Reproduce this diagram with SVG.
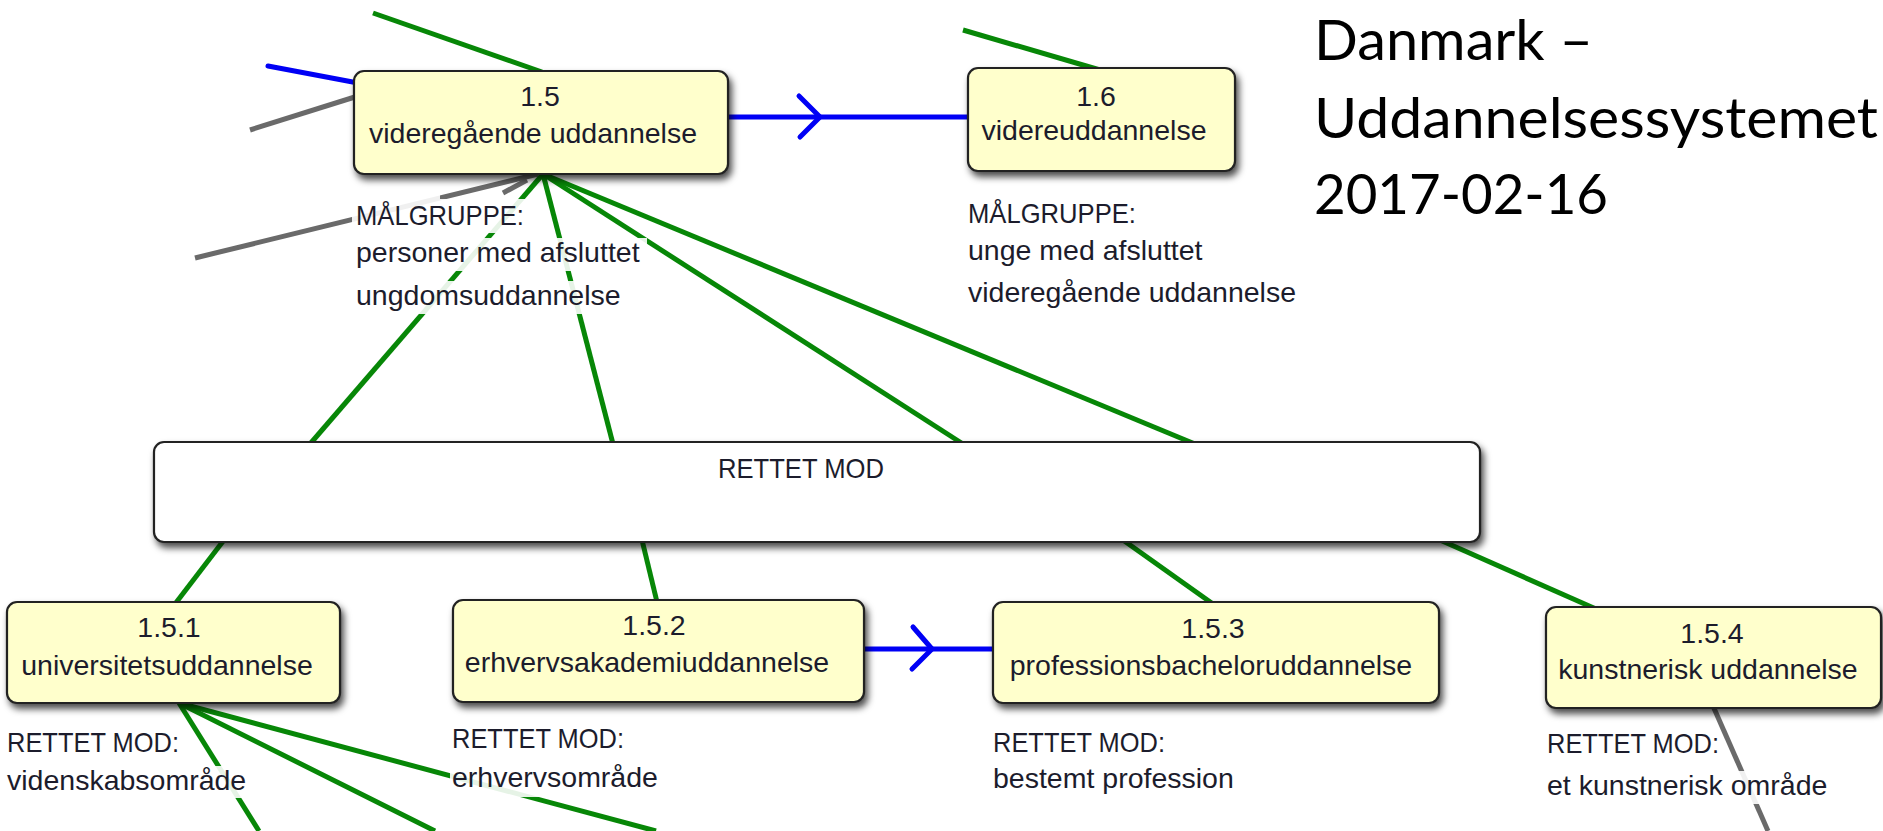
<svg xmlns="http://www.w3.org/2000/svg" width="1883" height="831" viewBox="0 0 1883 831">
<style>
.g{stroke:#078707;stroke-width:5;fill:none;stroke-linecap:butt}
.b{stroke:#0000f5;stroke-width:5;fill:none;stroke-linecap:round;stroke-linejoin:round}
.k{stroke:#6a6a6a;stroke-width:5;fill:none}
.box{fill:#ffffcc;stroke:#222;stroke-width:2.2;filter:url(#sh)}
.wbox{fill:#ffffff;stroke:#222;stroke-width:2.2;filter:url(#sh)}
.t{font-family:"Liberation Sans",Arial,sans-serif;font-size:28.5px;fill:#1c1c2c}
.c{text-anchor:middle}
.bg{fill:#ffffff;fill-opacity:0.9}
.title{font-family:Lato,"Open Sans",sans-serif;font-size:56px;fill:#000}
</style>
<defs>
<filter id="sh" x="-10%" y="-20%" width="125%" height="150%">
<feDropShadow dx="3" dy="5" stdDeviation="3.5" flood-color="#000" flood-opacity="0.7"/>
</filter>
</defs>
<g id="connectors">
<line class="g" x1="373" y1="13" x2="542" y2="72"/>
<line class="b" x1="268" y1="66" x2="358" y2="83"/>
<line class="k" x1="250" y1="130" x2="358" y2="96"/>
<line class="k" x1="195" y1="258" x2="538" y2="174"/>
<line class="k" x1="503" y1="193" x2="527" y2="180"/>
<line class="g" x1="963" y1="30" x2="1100" y2="70"/>
<line class="b" x1="729" y1="117" x2="970" y2="117"/>
<polyline class="b" points="799,96 820,117 800,137"/>
<line class="g" x1="543" y1="174" x2="310" y2="444"/>
<line class="g" x1="543" y1="174" x2="613" y2="444"/>
<line class="g" x1="543" y1="174" x2="963" y2="444"/>
<line class="g" x1="543" y1="174" x2="1195" y2="444"/>
<line class="g" x1="224" y1="540" x2="175" y2="604"/>
<line class="g" x1="642" y1="540" x2="657" y2="602"/>
<line class="g" x1="1123" y1="540" x2="1213" y2="604"/>
<line class="g" x1="1440" y1="540" x2="1596" y2="609"/>
<line class="b" x1="864" y1="649" x2="995" y2="649"/>
<polyline class="b" points="913,627 932,649 912,669"/>
<line class="g" x1="179" y1="703" x2="259" y2="831"/>
<line class="g" x1="179" y1="703" x2="435" y2="831"/>
<line class="g" x1="179" y1="703" x2="656" y2="831"/>
<line class="k" x1="1713" y1="706" x2="1768" y2="831"/>
</g>
<g id="title">
<text class="title" x="1314" y="60" textLength="279" lengthAdjust="spacingAndGlyphs">Danmark –</text>
<text class="title" x="1314" y="138" textLength="564" lengthAdjust="spacingAndGlyphs">Uddannelsessystemet</text>
<text class="title" x="1314" y="214" textLength="294" lengthAdjust="spacingAndGlyphs">2017-02-16</text>
</g>
<g id="n1_5">
<rect class="box" x="354" y="71" width="374" height="103" rx="10"/>
<text class="t c" x="540" y="106">1.5</text>
<text class="t c" x="533" y="143">videregående uddannelse</text>
<rect class="bg" x="352" y="195" width="88" height="38"/>
<rect class="bg" x="440" y="199" width="88" height="34"/>
<rect class="bg" x="354" y="238" width="293" height="33"/>
<rect class="bg" x="354" y="281" width="268" height="33"/>
<text class="t" x="356" y="225" textLength="168" lengthAdjust="spacingAndGlyphs">MÅLGRUPPE:</text>
<text class="t" x="356" y="262">personer med afsluttet</text>
<text class="t" x="356" y="305">ungdomsuddannelse</text>
</g>
<g id="n1_6">
<rect class="box" x="968" y="68" width="267" height="103" rx="10"/>
<text class="t c" x="1096" y="106">1.6</text>
<text class="t c" x="1094" y="140">videreuddannelse</text>
<text class="t" x="968" y="223" textLength="168" lengthAdjust="spacingAndGlyphs">MÅLGRUPPE:</text>
<text class="t" x="968" y="260">unge med afsluttet</text>
<text class="t" x="968" y="302">videregående uddannelse</text>
</g>
<g id="rettet_mod">
<rect class="wbox" x="154" y="442" width="1326" height="100" rx="10"/>
<text class="t" x="718" y="478" textLength="166" lengthAdjust="spacingAndGlyphs">RETTET MOD</text>
</g>
<g id="n1_5_1">
<rect class="box" x="7" y="602" width="333" height="101" rx="10"/>
<text class="t c" x="169" y="637">1.5.1</text>
<text class="t c" x="167" y="675">universitetsuddannelse</text>
<rect class="bg" x="5" y="766" width="245" height="32"/>
<text class="t" x="7" y="752" textLength="172" lengthAdjust="spacingAndGlyphs">RETTET MOD:</text>
<text class="t" x="7" y="790">videnskabsområde</text>
</g>
<g id="n1_5_2">
<rect class="box" x="453" y="600" width="411" height="102" rx="10"/>
<text class="t c" x="654" y="635">1.5.2</text>
<text class="t c" x="647" y="672">erhvervsakademiuddannelse</text>
<rect class="bg" x="450" y="763" width="213" height="34"/>
<text class="t" x="452" y="748" textLength="172" lengthAdjust="spacingAndGlyphs">RETTET MOD:</text>
<text class="t" x="452" y="787">erhvervsområde</text>
</g>
<g id="n1_5_3">
<rect class="box" x="993" y="602" width="446" height="101" rx="10"/>
<text class="t c" x="1213" y="638">1.5.3</text>
<text class="t c" x="1211" y="675">professionsbacheloruddannelse</text>
<text class="t" x="993" y="752" textLength="172" lengthAdjust="spacingAndGlyphs">RETTET MOD:</text>
<text class="t" x="993" y="788">bestemt profession</text>
</g>
<g id="n1_5_4">
<rect class="box" x="1546" y="607" width="335" height="101" rx="10"/>
<text class="t c" x="1712" y="643">1.5.4</text>
<text class="t c" x="1708" y="679">kunstnerisk uddannelse</text>
<rect class="bg" x="1545" y="771" width="282" height="33"/>
<text class="t" x="1547" y="753" textLength="172" lengthAdjust="spacingAndGlyphs">RETTET MOD:</text>
<text class="t" x="1547" y="795">et kunstnerisk område</text>
</g>
</svg>
